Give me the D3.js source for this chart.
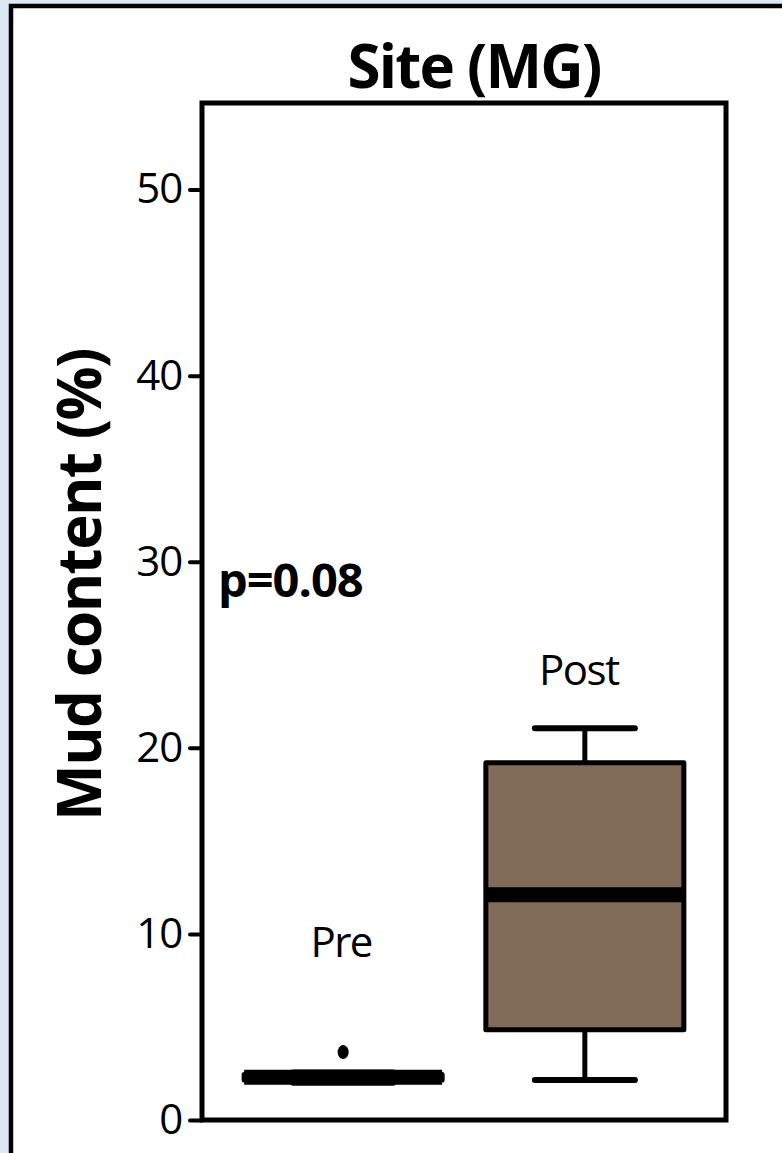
<!DOCTYPE html>
<html>
<head>
<meta charset="utf-8">
<script src="https://cdn.jsdelivr.net/npm/d3@7"></script>
<style>
  html, body { margin: 0; padding: 0; background: #dde8f5; }
  svg { display: block; }
</style>
</head>
<body>
<script>
// Mud content (%) before and after, site MG
const groups = ["Pre", "Post"];
const whiskerLow  = [2.0, 2.15];
const quartile1   = [2.15, 4.85];
const medians     = [2.3, 12.1];
const quartile3   = [2.45, 19.2];
const whiskerHigh = [2.55, 21.05];
const outliers    = [[3.65], []];
const yTicks = [0, 10, 20, 30, 40, 50];
const pLabel = "p=0.08";

const W = 782, H = 1153;
const font = "'Open Sans', 'Noto Sans', sans-serif";

const svg = d3.select("body").append("svg")
  .attr("width", W).attr("height", H);

// outer panel: light border band, black frame, white inside
svg.append("rect").attr("width", W).attr("height", H).attr("fill", "#dde8f5");
svg.append("rect")
  .attr("x", 11).attr("y", 6).attr("width", W + 20).attr("height", H + 20)
  .attr("fill", "#fff").attr("stroke", "#000").attr("stroke-width", 4.5);

const plot = { left: 202, right: 726, top: 103, bottom: 1120 };

const y = d3.scaleLinear().domain([0, 54.65]).range([1120, plot.top]);
const x = d3.scalePoint().domain(groups).range([plot.left, plot.right]).padding(0.584);
const boxW = 198, capW = 100;

// title
svg.append("text")
  .attr("x", 474).attr("y", 88)
  .attr("text-anchor", "middle")
  .attr("font-family", font).attr("font-weight", 700)
  .attr("font-size", 60).attr("letter-spacing", -1.8)
  .text("Site (MG)");

// y axis title
svg.append("text")
  .attr("transform", `translate(101, 585) rotate(-90)`)
  .attr("text-anchor", "middle")
  .attr("font-family", font).attr("font-weight", 700)
  .attr("font-size", 60).attr("letter-spacing", -1.5)
  .text("Mud content (%)");

// y axis
const axis = svg.append("g")
  .attr("transform", `translate(${plot.left},0)`)
  .call(d3.axisLeft(y).tickValues(yTicks).tickSize(12).tickPadding(8));
axis.select(".domain").remove();
axis.selectAll(".tick line").attr("stroke", "#000").attr("stroke-width", 4)
  .attr("stroke-linecap", "round");
axis.selectAll(".tick text")
  .attr("font-family", font).attr("font-size", 42).attr("fill", "#000")
  .attr("letter-spacing", -1.2);

// boxes
const data = groups.map((g, i) => ({
  g, lo: whiskerLow[i], q1: quartile1[i], med: medians[i],
  q3: quartile3[i], hi: whiskerHigh[i], out: outliers[i]
}));
const labelAt = [8.75, 23.4];
const labelShift = [-2, -6];

const boxes = svg.append("g");
data.forEach((d, i) => {
  const cx = x(d.g);
  const g = boxes.append("g");
  g.append("line")
    .attr("x1", cx).attr("x2", cx).attr("y1", y(d.hi)).attr("y2", y(d.q3))
    .attr("stroke", "#000").attr("stroke-width", 5);
  g.append("line")
    .attr("x1", cx).attr("x2", cx).attr("y1", y(d.q1)).attr("y2", y(d.lo))
    .attr("stroke", "#000").attr("stroke-width", 5);
  [d.lo, d.hi].forEach(v => g.append("line")
    .attr("x1", cx - capW / 2).attr("x2", cx + capW / 2)
    .attr("y1", y(v)).attr("y2", y(v))
    .attr("stroke", "#000").attr("stroke-width", 6).attr("stroke-linecap", "round"));
  g.append("rect")
    .attr("x", cx - boxW / 2).attr("width", boxW)
    .attr("y", y(d.q3)).attr("height", y(d.q1) - y(d.q3))
    .attr("fill", "#816b59").attr("stroke", "#000").attr("stroke-width", 5)
    .attr("stroke-linejoin", "round");
  g.append("line")
    .attr("x1", cx - boxW / 2).attr("x2", cx + boxW / 2)
    .attr("y1", y(d.med)).attr("y2", y(d.med))
    .attr("stroke", "#000").attr("stroke-width", 15);
  d.out.forEach(v => g.append("ellipse")
    .attr("cx", cx).attr("cy", y(v)).attr("rx", 5.5).attr("ry", 7)
    .attr("fill", "#000"));
  // group label above each box
  g.append("text")
    .attr("x", cx + labelShift[i]).attr("y", y(labelAt[i]))
    .attr("text-anchor", "middle")
    .attr("font-family", font).attr("font-size", 42).attr("letter-spacing", -1.5)
    .text(d.g);
});

// frame
svg.append("rect")
  .attr("x", plot.left).attr("y", plot.top)
  .attr("width", plot.right - plot.left).attr("height", plot.bottom - plot.top)
  .attr("fill", "none").attr("stroke", "#000").attr("stroke-width", 5);

// p value
svg.append("text")
  .attr("x", 218).attr("y", y(28.1))
  .attr("font-family", font).attr("font-weight", 700)
  .attr("font-size", 47).attr("letter-spacing", -1)
  .text(pLabel);
</script>
</body>
</html>
